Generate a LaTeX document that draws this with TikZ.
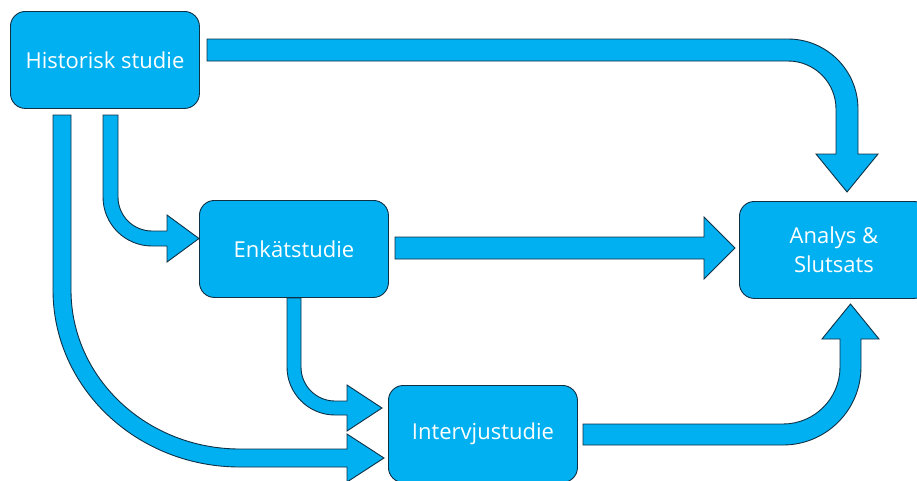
\documentclass[tikz,border=0pt]{standalone}
\usepackage{fontspec}
\setmainfont{Open Sans}
\definecolor{boxfill}{HTML}{00B0F0}
\definecolor{boxline}{HTML}{0F3045}
\tikzset{
  stepbox/.style={draw=boxline, fill=boxfill, line width=0.9pt, rounded corners=15pt,
    minimum width=189pt, minimum height=97pt, inner sep=0pt, anchor=north west,
    text=white, align=center, font=\fontsize{22}{29}\selectfont},
  blockarrow/.style={draw=boxline, fill=boxfill, line width=0.9pt, line join=miter}
}
\begin{document}
\begin{tikzpicture}[x=1pt, y=1pt, yscale=-1]
\useasboundingbox (0,0) rectangle (917,480);
\clip (0,0) rectangle (917,480);
% boxes
\node[stepbox] (hist) at (10,11) {Historisk studie};
\node[stepbox] (enk) at (199,200) {Enkätstudie};
\node[stepbox] (intv) at (388,385) {Intervjustudie};
\node[stepbox] (anal) at (739,201) {Analys \&\\Slutsats};
% Historisk -> Analys
\draw[blockarrow] (207,39) -- (788,39) arc[start angle=270, end angle=360, radius=70]
  -- (858,154) -- (878,154) -- (847,192) -- (816,154) -- (836,154) -- (836,109)
  arc[start angle=0, end angle=-90, radius=48] -- (207,61) -- cycle;
% Historisk -> Enkat
\draw[blockarrow] (103,115) -- (103,197) arc[start angle=180, end angle=90, radius=49]
  -- (167,246) -- (167,262) -- (199,238.5) -- (167,215) -- (167,231) -- (152,231)
  arc[start angle=90, end angle=180, radius=34] -- (118,115) -- cycle;
% Historisk -> Intervju
\draw[blockarrow] (53,115) -- (53,290) arc[start angle=180, end angle=90, x radius=187, y radius=177]
  -- (347,467) -- (347,482) -- (384,458) -- (347,434) -- (347,449) -- (240,449)
  arc[start angle=90, end angle=180, x radius=169, y radius=159] -- (71,115) -- cycle;
% Enkat -> Intervju
\draw[blockarrow] (287,298) -- (287,367) arc[start angle=180, end angle=90, radius=48]
  -- (347,415) -- (347,431) -- (382,408) -- (347,385) -- (347,401) -- (335,401)
  arc[start angle=90, end angle=180, radius=34] -- (301,298) -- cycle;
% Enkat -> Analys
\draw[blockarrow] (395,237) -- (704,237) -- (704,217) -- (735,248) -- (704,279) -- (704,259) -- (395,259) -- cycle;
% Intervju -> Analys
\draw[blockarrow] (583,424) -- (783,424) arc[start angle=90, end angle=0, radius=57]
  -- (840,339) -- (822,339) -- (850.5,304) -- (879,339) -- (861,339) -- (861,367)
  arc[start angle=0, end angle=90, radius=78] -- (583,445) -- cycle;
\end{tikzpicture}
\end{document}
